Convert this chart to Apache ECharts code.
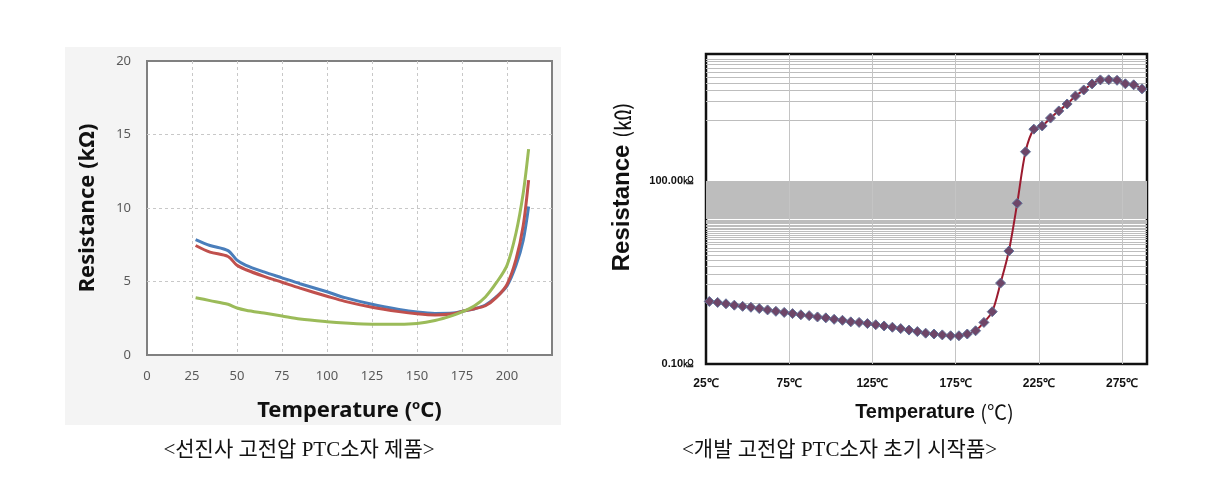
<!DOCTYPE html>
<html>
<head>
<meta charset="utf-8">
<script src="https://cdn.jsdelivr.net/npm/echarts@6/dist/echarts.min.js"></script>
<style>
html,body{margin:0;padding:0;background:#fff;}
#c{width:1226px;height:495px;}
</style>
</head>
<body>
<div id="c"></div>
<script>
// ---- Left chart (competitor product) ----
const leftTemps = [27, 35, 45, 50, 55, 65, 75, 85, 100, 110, 125, 140, 150, 160, 170, 176, 182, 188, 194, 200, 205, 209, 212];
const leftBlue  = [7.85, 7.45, 7.1, 6.45, 6.1, 5.65, 5.25, 4.85, 4.3, 3.9, 3.45, 3.1, 2.92, 2.83, 2.85, 3.0, 3.15, 3.4, 3.95, 4.7, 6.1, 7.8, 10.1];
const leftRed   = [7.45, 7.0, 6.7, 6.1, 5.8, 5.35, 4.95, 4.55, 4.0, 3.65, 3.25, 2.95, 2.8, 2.72, 2.8, 3.0, 3.15, 3.35, 3.9, 4.8, 6.5, 8.8, 11.9];
const leftGreen = [3.9, 3.7, 3.45, 3.2, 3.05, 2.85, 2.65, 2.45, 2.27, 2.18, 2.1, 2.1, 2.15, 2.35, 2.7, 2.98, 3.35, 3.95, 4.9, 6.1, 8.3, 11.0, 14.0];
const leftXTicks = [0, 25, 50, 75, 100, 125, 150, 175, 200];

// ---- Right chart (developed prototype) ----
const rightTemps = [27, 32, 37, 42, 47, 52, 57, 62, 67, 72, 77, 82, 87, 92, 97, 102, 107, 112, 117, 122, 127, 132, 137, 142, 147, 152, 157, 162, 167, 172, 177, 182, 187, 192, 197, 202, 207, 212, 217, 222, 227, 232, 237, 242, 247, 252, 257, 262, 267, 272, 277, 282, 287];
const rightRes = [1.06, 1.02, 0.97, 0.92, 0.88, 0.85, 0.81, 0.77, 0.73, 0.70, 0.67, 0.64, 0.62, 0.59, 0.57, 0.54, 0.52, 0.49, 0.48, 0.46, 0.44, 0.42, 0.40, 0.38, 0.36, 0.34, 0.32, 0.31, 0.30, 0.29, 0.29, 0.31, 0.35, 0.48, 0.72, 2.12, 7.1, 43, 300, 705, 795, 1070, 1400, 1820, 2460, 3090, 3880, 4520, 4530, 4450, 3900, 3750, 3220];
const rightXTicks = [25, 75, 125, 175, 225, 275];
const rightYTicks = {0.1: '0.10㏀', 100: '100.00㏀'};
const rightVGrid = [75, 125, 175, 225, 275];

// horizontal grid lines of the log chart (as drawn in the original)
const rightHGrid = [];
for (let v = 1; v <= 100; v++) rightHGrid.push(v);
for (let v = 1000; v <= 10000; v += 1000) rightHGrid.push(v);

const chart = echarts.init(document.getElementById('c'), null, {renderer: 'canvas'});

const leftLine = (name, vals, color) => ({
  name, type: 'line', xAxisIndex: 0, yAxisIndex: 0,
  data: leftTemps.map((t, i) => [t, vals[i]]),
  showSymbol: false, smooth: 0.3,
  lineStyle: {color, width: 3}, itemStyle: {color},
  z: 3
});

const capFont = '21px "Liberation Serif", "Noto Sans CJK KR", serif';

const option = {
  animation: false,
  graphic: [
    {type: 'rect', shape: {x: 65, y: 47, width: 496, height: 378}, style: {fill: '#f4f4f4'}, z: -10, silent: true},
    {type: 'text', x: 299, y: 450, style: {text: '<선진사 고전압 PTC소자 제품>', font: capFont, fill: '#111', textAlign: 'center', textVerticalAlign: 'middle'}},
    {type: 'text', x: 682, y: 450, style: {text: '<개발 고전압 PTC소자 초기 시작품>', font: capFont, fill: '#111', textAlign: 'left', textVerticalAlign: 'middle'}}
  ],
  grid: [
    {left: 147, top: 61, width: 405, height: 294, show: true, backgroundColor: '#fff', borderColor: '#808080', borderWidth: 2},
    {left: 706, top: 54, width: 441, height: 310, show: true, backgroundColor: '#fff', borderColor: '#111', borderWidth: 2.5}
  ],
  xAxis: [
    {
      type: 'value', gridIndex: 0, min: 0, max: 225, interval: 25,
      axisLine: {show: false}, axisTick: {show: false},
      splitLine: {show: true, showMinLine: false, showMaxLine: false, lineStyle: {color: '#c8c8c8', type: [3, 3], width: 1}},
      axisLabel: {color: '#595959', fontSize: 13, fontFamily: 'Noto Sans', margin: 15,
        formatter: v => leftXTicks.indexOf(v) >= 0 ? String(v) : ''},
      name: '{b|Temperature (}{s|o}{b|C)}', nameLocation: 'middle', nameGap: 44,
      nameTextStyle: {rich: {
        b: {fontSize: 22, fontWeight: 'bold', fontFamily: 'Noto Sans', color: '#111'},
        s: {fontSize: 13, fontWeight: 'bold', fontFamily: 'Noto Sans', color: '#111', verticalAlign: 'top', padding: [0, 0, 10, 0]}
      }}
    },
    {
      type: 'value', gridIndex: 1, min: 25, max: 290, interval: 25,
      axisLine: {show: false}, axisTick: {show: false}, splitLine: {show: false},
      axisLabel: {color: '#111', fontSize: 12, fontWeight: 'bold', fontFamily: '"Liberation Sans Narrow", "Liberation Sans", sans-serif', margin: 14,
        formatter: v => rightXTicks.indexOf(v) >= 0 ? v + '℃' : ''},
      name: '{b|Temperature }{t|(℃)}', nameLocation: 'middle', nameGap: 38,
      nameTextStyle: {padding: [0, 0, 0, 16], rich: {
        b: {fontSize: 20, fontWeight: 'bold', fontFamily: '"Liberation Sans", sans-serif', color: '#111'},
        t: {fontSize: 20, fontWeight: 'normal', fontFamily: '"Noto Sans CJK KR", sans-serif', color: '#111'}
      }}
    }
  ],
  yAxis: [
    {
      type: 'value', gridIndex: 0, min: 0, max: 20, interval: 5,
      axisLine: {show: false}, axisTick: {show: false},
      splitLine: {show: true, showMinLine: false, showMaxLine: false, lineStyle: {color: '#c8c8c8', type: [3, 3], width: 1}},
      axisLabel: {color: '#595959', fontSize: 13, fontFamily: 'Noto Sans', margin: 16},
      name: 'Resistance (kΩ)', nameLocation: 'middle', nameGap: 48,
      nameTextStyle: {fontSize: 22, fontWeight: 'bold', fontFamily: 'Noto Sans', color: '#111'}
    },
    {
      type: 'log', gridIndex: 1, min: 0.1, max: 12000, logBase: 10,
      axisLine: {show: false}, axisTick: {show: false}, splitLine: {show: false},
      axisLabel: {color: '#111', fontSize: 11, fontWeight: 'bold', fontFamily: '"Liberation Sans Narrow", "Liberation Sans", sans-serif', margin: 12,
        formatter: v => {
          if (Math.abs(Math.log10(v) + 1) < 0.01) return rightYTicks[0.1];
          if (Math.abs(Math.log10(v) - 2) < 0.01) return rightYTicks[100];
          return '';
        }},
      name: '{b|Resistance }{t|(㏀)}', nameLocation: 'middle', nameGap: 72,
      nameTextStyle: {padding: [0, 0, 0, 44], rich: {
        b: {fontSize: 24, fontWeight: 'bold', fontFamily: '"Liberation Sans", sans-serif', color: '#111'},
        t: {fontSize: 21, fontWeight: 'normal', fontFamily: '"Noto Sans CJK KR", sans-serif', color: '#111'}
      }}
    }
  ],
  series: [
    leftLine('blue', leftBlue, '#4a7ebb'),
    leftLine('red', leftRed, '#c0504d'),
    leftLine('green', leftGreen, '#9bbb59'),
    {
      name: 'hgrid', type: 'line', xAxisIndex: 1, yAxisIndex: 1, data: [], z: 1, silent: true,
      markLine: {
        silent: true, symbol: ['none', 'none'], label: {show: false}, animation: false,
        lineStyle: {color: '#bdbdbd', width: 1, type: 'solid'},
        emphasis: {disabled: true},
        data: rightHGrid.map(v => ({yAxis: v}))
      }
    },
    {
      name: 'vgrid', type: 'line', xAxisIndex: 1, yAxisIndex: 1, data: [], z: 1, silent: true,
      markLine: {
        silent: true, symbol: ['none', 'none'], label: {show: false}, animation: false,
        lineStyle: {color: '#c4c4c4', width: 1, type: 'solid'},
        emphasis: {disabled: true},
        data: rightVGrid.map(v => ({xAxis: v}))
      }
    },
    {
      name: 'prototype', type: 'line', xAxisIndex: 1, yAxisIndex: 1,
      data: rightTemps.map((t, i) => [t, rightRes[i]]),
      smooth: 0.3, symbol: 'diamond', symbolSize: 10, showSymbol: true,
      lineStyle: {color: '#9b1b2f', width: 2},
      itemStyle: {color: '#6e4668', borderColor: '#61739a', borderWidth: 1},
      z: 5
    }
  ]
};
chart.setOption(option);
</script>
</body>
</html>
